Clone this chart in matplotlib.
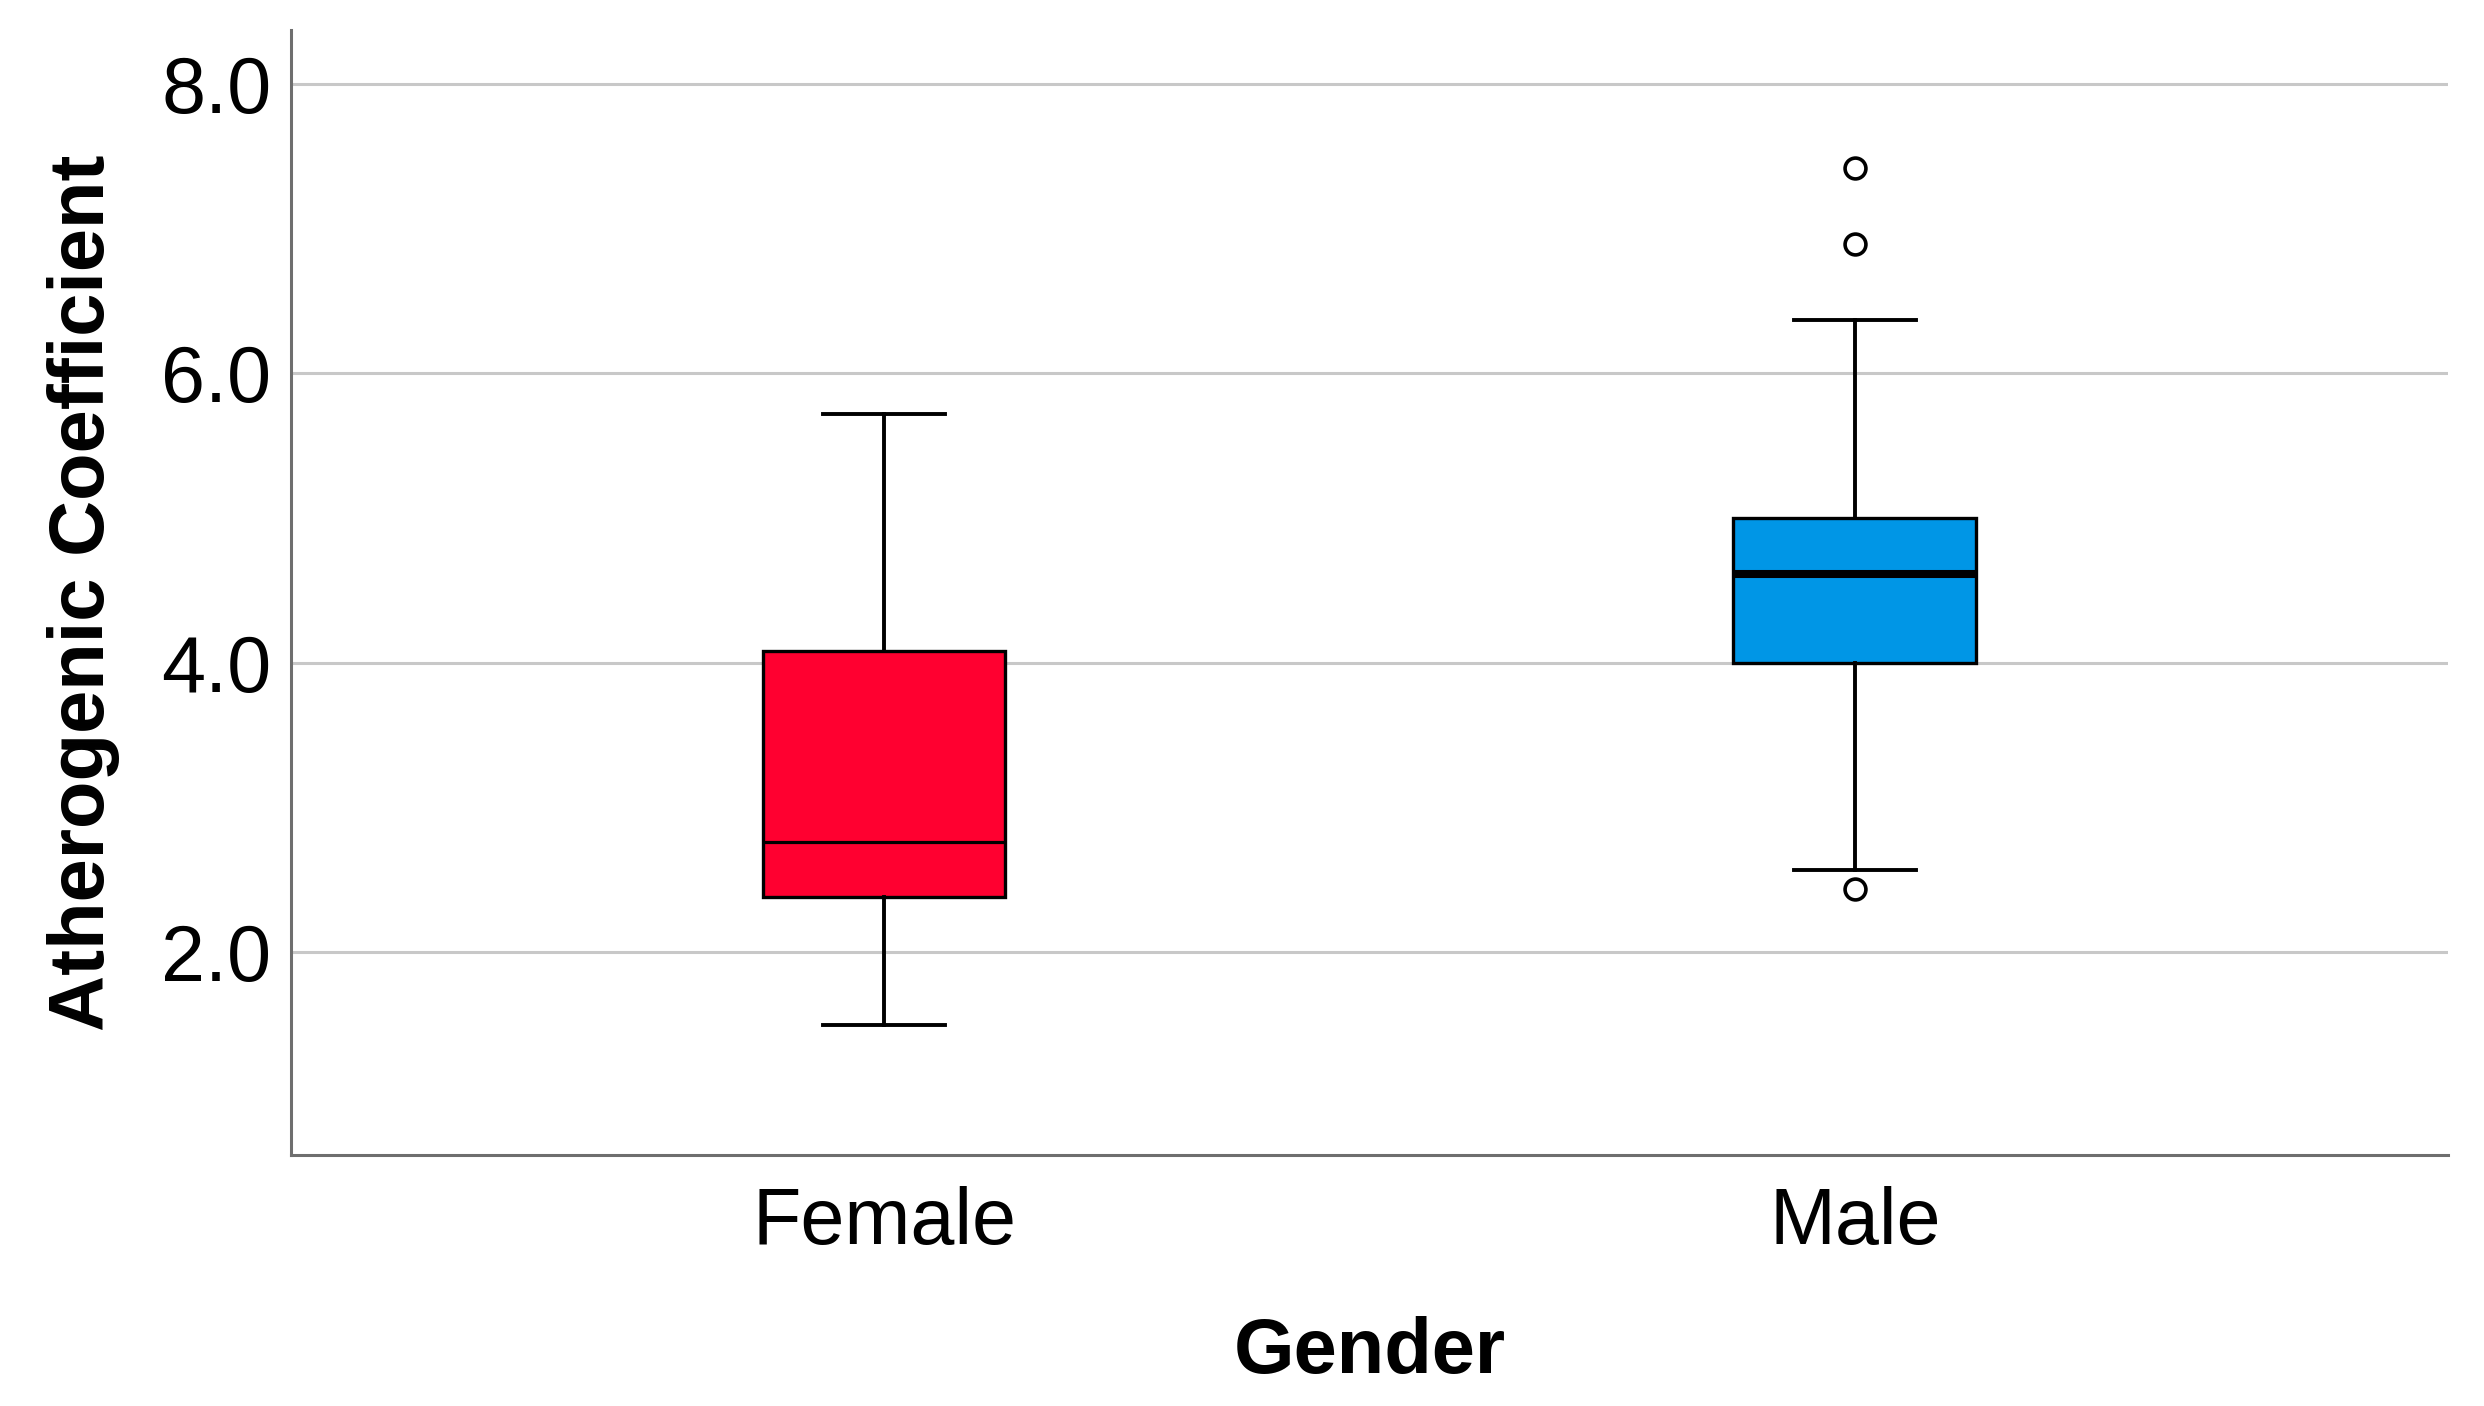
import matplotlib
matplotlib.use("Agg")
import matplotlib.pyplot as plt

# ---- data ----
categories = ["Female", "Male"]
whisker_low = [1.50, 2.57]
q1 = [2.38, 4.00]
median = [2.76, 4.61]
q3 = [4.08, 5.00]
whisker_high = [5.72, 6.37]
outliers = [[], [7.42, 6.89, 2.44]]
box_colors = ["#FF0030", "#0096E6"]
yticks = [2.0, 4.0, 6.0, 8.0]
ytick_labels = ["2.0", "4.0", "6.0", "8.0"]

plt.rcParams["font.family"] = ["Liberation Sans", "DejaVu Sans"]

fig = plt.figure(figsize=(24.84, 14.06), dpi=100)
ax = fig.add_axes([0.1171, 0.1785, 0.9855 - 0.1171, 0.9787 - 0.1785])

stats = []
for i, c in enumerate(categories):
    stats.append(dict(label=c, whislo=whisker_low[i], q1=q1[i], med=median[i],
                      q3=q3[i], whishi=whisker_high[i], fliers=outliers[i]))

positions = list(range(len(categories)))
bp = ax.bxp(stats, positions=positions, widths=0.25, patch_artist=True,
            showfliers=True,
            boxprops=dict(linewidth=2.4, edgecolor="black"),
            whiskerprops=dict(linewidth=2.8, color="black"),
            capprops=dict(linewidth=2.8, color="black"),
            capwidths=0.125,
            flierprops=dict(marker="o", markerfacecolor="white",
                            markeredgecolor="black", markersize=15,
                            markeredgewidth=2.6, linestyle="none"),
            medianprops=dict(color="black", linewidth=2.3),
            zorder=3)
for patch, col in zip(bp["boxes"], box_colors):
    patch.set_facecolor(col)
bp["medians"][1].set_linewidth(5.8)

ax.set_xlim(-0.611, 1.611)
ax.set_ylim(0.6, 8.37)
ax.set_yticks(yticks)
ax.set_yticklabels(ytick_labels)
ax.set_xticks(positions)
ax.set_xticklabels(categories)
ax.tick_params(axis="both", length=0, labelsize=57, colors="black")
ax.tick_params(axis="y", pad=14)
ax.tick_params(axis="x", pad=22)

ax.yaxis.grid(True, color="#C8C8C8", linewidth=2.2, zorder=0)
ax.set_axisbelow(True)
for s in ["top", "right"]:
    ax.spines[s].set_visible(False)
for s in ["left", "bottom"]:
    ax.spines[s].set_color("#6E6E6E")
    ax.spines[s].set_linewidth(2.2)

ax.set_ylabel("Atherogenic Coefficient", fontsize=56, fontweight="bold", labelpad=30)
ax.set_xlabel("Gender", fontsize=56, fontweight="bold", labelpad=40)

fig.savefig("out.png", dpi=100, facecolor="white")
